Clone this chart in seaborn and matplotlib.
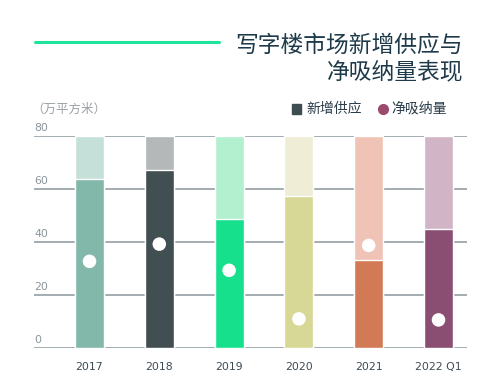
import matplotlib
matplotlib.use("Agg")
import matplotlib.pyplot as plt
import matplotlib.transforms as mtransforms
import seaborn as sns
import pandas as pd

# data
years = ['2017', '2018', '2019', '2020', '2021', '2022 Q1']
supply = [63.7, 67.0, 48.8, 57.5, 33.1, 45.0]        # 新增供应
absorption = [32.7, 39.2, 29.3, 11.0, 38.7, 10.6]    # 净吸纳量
y_ticks = [0, 20, 40, 60, 80]
y_max = 80

dark_cols = ['#82b8aa', '#414f52', '#16e08c', '#d8d896', '#d27a55', '#8b4e73']
light_cols = ['#c5e0d8', '#b4b8b9', '#b3f0cf', '#efedd5', '#efc3b5', '#d1b5c6']

df = pd.DataFrame({'year': years, 'supply': supply,
                   'absorption': absorption, 'full': [y_max] * len(years)})

sns.set_style('white')
plt.rcParams['font.family'] = ['Noto Sans CJK SC', 'DejaVu Sans']

fig = plt.figure(figsize=(5, 3.88), dpi=100)
ax = fig.add_axes([0.068, 0.1031, 0.866, 0.5464])

# gridlines under the bars
for t in y_ticks:
    ax.axhline(t, color='#8a969c', lw=1.1, zorder=0)

sns.barplot(data=df, x='year', y='full', hue='year', palette=light_cols,
            width=0.415, saturation=1, legend=False, ax=ax, zorder=2)
sns.barplot(data=df, x='year', y='supply', hue='year', palette=dark_cols,
            width=0.415, saturation=1, legend=False, ax=ax, zorder=3)
sns.scatterplot(data=df, x='year', y='absorption', color='white', s=95,
                edgecolor='none', ax=ax, zorder=4)

ax.set_xlim(-0.795, 5.408)
ax.set_ylim(0, y_max)
ax.set_xlabel('')
ax.set_ylabel('')
ax.set_yticks([])
ax.tick_params(axis='x', length=0, pad=10, labelsize=7.8, labelcolor='#3c4b55')
for lab in ax.get_xticklabels():
    lab.set_family('DejaVu Sans')
for s in ax.spines.values():
    s.set_visible(False)

# y tick labels sit above the gridlines, left aligned
trans = mtransforms.blended_transform_factory(ax.transAxes, ax.transData)
for t in y_ticks:
    ax.text(0.0, t + 1.2, str(t), transform=trans, ha='left', va='bottom',
            fontsize=7.8, color='#8a9499', family='DejaVu Sans')

# title block
fig.add_artist(plt.Line2D([35 / 500, 219 / 500], [1 - 42 / 388, 1 - 42 / 388],
                          color='#1ee39b', lw=2.2))
fig.text(463 / 500, 1 - 45 / 388, '写字楼市场新增供应与', ha='right', va='center',
         fontsize=16.4, color='#1e3a4a')
fig.text(463 / 500, 1 - 72 / 388, '净吸纳量表现', ha='right', va='center',
         fontsize=16.4, color='#1e3a4a')

fig.text(31 / 500, 1 - 109 / 388, '（万平方米）', ha='left', va='center',
         fontsize=9, color='#9aa2a6')

# legend
fig.add_artist(plt.Rectangle((292 / 500, 1 - 114 / 388), 9 / 500, 10 / 388,
                             color='#3e4d4f', transform=fig.transFigure))
fig.text(306 / 500, 1 - 109 / 388, '新增供应', ha='left', va='center',
         fontsize=10, color='#2a3c48')
fig.add_artist(plt.Line2D([383 / 500], [1 - 109 / 388], marker='o', ms=7,
                          color='#9b4a6e', lw=0))
fig.text(391 / 500, 1 - 109 / 388, '净吸纳量', ha='left', va='center',
         fontsize=10, color='#2a3c48')

fig.savefig('out.png', dpi=100)
